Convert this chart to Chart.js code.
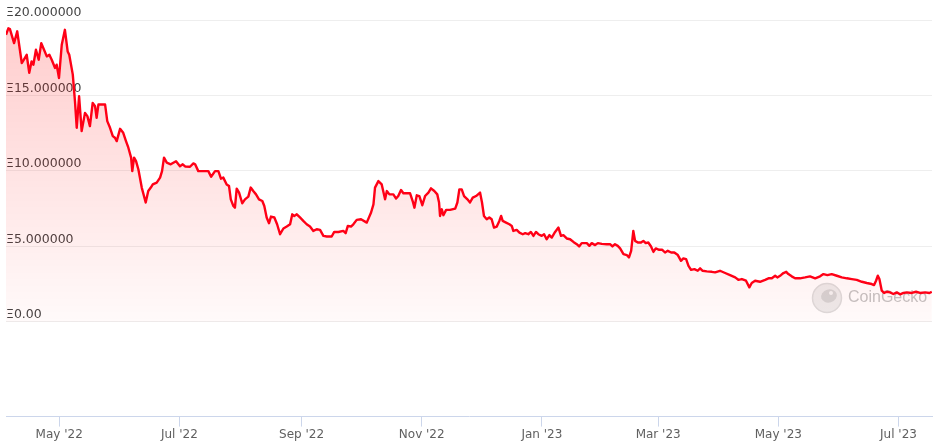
<!DOCTYPE html>
<html>
<head>
<meta charset="utf-8">
<script src="https://cdn.jsdelivr.net/npm/chart.js@4/dist/chart.umd.min.js"></script>
<style>
    body { margin: 0; background: #ffffff; }
    #price-chart { display: block; }
</style>
</head>
<body>
<canvas id="price-chart" width="942" height="445"></canvas>
<script>
// days counted from 2022-04-04
const startDate = '2022-04-04';

const dayOffsets = [
    0, 1.2, 2.0, 4.1, 5.7, 8.0, 9.1, 10.5, 11.8, 13.0, 13.9, 15.2, 16.6, 17.9, 19.3, 20.7, 22.0, 23.2, 24.9, 25.7,
    26.9, 28.3, 29.9, 31.3, 32.1, 33.9, 35.0, 35.9, 37.1, 38.4, 40.1, 41.3, 42.6, 44.0, 45.2, 46.0, 46.9, 50.3, 51.4, 52.8,
    54.2, 55.3, 56.2, 57.9, 59.5, 60.9, 62.1, 63.5, 64.1, 65.0, 66.0, 67.2, 68.9, 70.9, 72.2, 73.5, 74.5, 76.5, 78.2, 79.2,
    80.2, 81.6, 83.6, 86.3, 88.3, 89.7, 90.9, 93.4, 95.1, 96.0, 97.6, 102.7, 104.1, 106.1, 107.8, 109.1, 110.3, 112.0, 113.2, 114.1,
    115.4, 116.2, 117.1, 118.3, 119.9, 121.3, 123.0, 124.2, 125.5, 126.9, 128.4, 130.1, 131.1, 132.3, 133.5, 134.5, 136.2, 137.6, 139.1, 140.8,
    142.5, 144.2, 145.3, 146.3, 147.6, 149.2, 150.9, 152.6, 154.3, 156.0, 157.7, 159.4, 161.1, 162.8, 165.3, 166.6, 168.7, 171.2, 172.4, 173.5,
    175.1, 176.3, 178.0, 180.2, 183.1, 185.3, 186.5, 187.3, 189.0, 190.7, 192.4, 193.3, 194.6, 196.6, 198.0, 199.1, 200.5, 201.7, 205.1, 206.4,
    207.3, 208.5, 209.8, 211.3, 212.7, 214.4, 215.7, 217.4, 218.9, 219.8, 220.3, 221.2, 222.0, 223.4, 225.4, 228.0, 229.1, 230.1, 231.3, 232.5,
    234.2, 235.5, 236.9, 238.6, 240.6, 241.6, 242.6, 244.0, 245.3, 246.5, 247.7, 249.1, 250.4, 251.3, 252.1, 253.8, 255.5, 256.7, 257.5, 259.2,
    260.6, 262.3, 263.5, 265.1, 266.4, 267.7, 269.0, 270.2, 271.9, 273.1, 274.4, 275.8, 277.0, 278.7, 280.4, 281.7, 282.9, 284.6, 286.3, 288.0,
    289.7, 290.9, 292.2, 294.8, 296.1, 297.3, 299.0, 300.4, 302.4, 304.9, 306.6, 307.8, 309.1, 310.5, 311.7, 313.4, 315.1, 316.2, 317.3, 318.4,
    319.3, 320.7, 322.3, 323.5, 324.7, 326.0, 327.4, 328.6, 329.8, 331.5, 333.1, 334.5, 335.9, 337.6, 339.2, 341.0, 342.6, 343.8, 345.2, 346.4,
    347.7, 349.4, 351.1, 352.3, 353.6, 355.7, 358.2, 359.9, 362.4, 365.0, 367.5, 370.1, 371.7, 373.5, 375.6, 377.3, 378.5, 380.2, 382.7, 385.3,
    387.0, 388.7, 390.4, 391.5, 393.3, 394.6, 396.0, 397.1, 398.8, 400.5, 403.0, 405.6, 408.1, 410.7, 413.2, 414.9, 416.9, 419.1, 421.7, 424.2,
    426.8, 429.3, 431.8, 434.4, 436.9, 439.4, 440.6, 441.6, 442.5, 443.3, 444.5, 445.7, 447.1, 448.7, 450.4, 452.1, 453.8, 455.5, 457.2, 459.7,
    461.9, 463.9, 466.5, 468.7, 469.9
];

const prices = [
    19.02, 19.45, 19.4, 18.47, 19.25, 17.15, 17.37, 17.7, 16.5, 17.26, 17.04, 18.03, 17.37, 18.47, 18.03, 17.59, 17.7, 17.37, 16.82, 17.04,
    16.16, 18.36, 19.35, 17.92, 17.7, 16.38, 14.62, 12.86, 14.95, 12.64, 13.85, 13.63, 12.97, 14.51, 14.29, 13.52, 14.4, 14.4, 13.3, 12.86,
    12.31, 12.2, 11.98, 12.79, 12.53, 11.98, 11.54, 10.88, 9.99, 10.88, 10.65, 10.1, 8.9, 7.91, 8.67, 8.9, 9.11, 9.23, 9.56, 9.99,
    10.88, 10.55, 10.44, 10.65, 10.32, 10.44, 10.3, 10.28, 10.5, 10.44, 9.99, 9.99, 9.62, 9.99, 9.99, 9.49, 9.56, 9.11, 9.0, 8.12,
    7.68, 7.57, 8.83, 8.57, 7.86, 8.12, 8.3, 8.9, 8.67, 8.45, 8.12, 8.01, 7.68, 6.92, 6.54, 6.98, 6.92, 6.47, 5.81, 6.19,
    6.32, 6.47, 7.13, 7.02, 7.13, 6.92, 6.69, 6.47, 6.32, 6.03, 6.14, 6.1, 5.7, 5.66, 5.66, 5.96, 5.96, 6.03, 5.88, 6.36,
    6.32, 6.47, 6.76, 6.8, 6.58, 7.25, 7.79, 8.9, 9.33, 9.11, 8.12, 8.67, 8.45, 8.45, 8.17, 8.34, 8.74, 8.52, 8.52, 8.01,
    7.57, 8.39, 8.34, 7.73, 8.34, 8.57, 8.85, 8.67, 8.45, 7.91, 7.02, 7.46, 7.07, 7.42, 7.42, 7.51, 7.91, 8.78, 8.78, 8.34,
    8.12, 7.91, 8.23, 8.34, 8.57, 7.91, 7.02, 6.8, 6.92, 6.8, 6.25, 6.32, 6.69, 7.02, 6.69, 6.58, 6.47, 6.36, 6.03, 6.1,
    5.92, 5.81, 5.88, 5.81, 5.96, 5.7, 5.96, 5.81, 5.7, 5.81, 5.48, 5.75, 5.59, 5.96, 6.25, 5.7, 5.75, 5.53, 5.48, 5.3,
    5.15, 5.0, 5.22, 5.22, 5.04, 5.22, 5.09, 5.22, 5.17, 5.15, 5.15, 5.0, 5.15, 5.04, 4.87, 4.49, 4.43, 4.27, 4.71, 6.03,
    5.37, 5.26, 5.26, 5.37, 5.22, 5.26, 5.0, 4.64, 4.87, 4.78, 4.78, 4.6, 4.71, 4.6, 4.6, 4.43, 4.05, 4.21, 4.16, 3.72,
    3.45, 3.5, 3.39, 3.55, 3.39, 3.35, 3.32, 3.28, 3.39, 3.24, 3.1, 2.95, 2.79, 2.84, 2.73, 2.29, 2.58, 2.73, 2.66, 2.79,
    2.89, 2.89, 3.06, 2.95, 3.1, 3.24, 3.32, 3.17, 3.02, 2.89, 2.89, 2.95, 3.02, 2.89, 3.02, 3.17, 3.1, 3.17, 3.06, 2.95,
    2.89, 2.84, 2.79, 2.66, 2.58, 2.51, 2.44, 2.73, 3.06, 2.84, 2.07, 1.92, 2.0, 1.96, 1.85, 1.96, 1.83, 1.92, 1.96, 1.92,
    2.0, 1.92, 1.96, 1.92, 2.0
];

const monthTickDates = ['2022-05-01', '2022-07-01', '2022-09-01', '2022-11-01', '2023-01-01', '2023-03-01', '2023-05-01', '2023-07-01'];
const monthTickLabels = ["May '22", "Jul '22", "Sep '22", "Nov '22", "Jan '23", "Mar '23", "May '23", "Jul '23"];

const priceTickValues = [0, 5, 10, 15, 20];
const priceTickLabels = ['Ξ0.00', 'Ξ5.000000', 'Ξ10.000000', 'Ξ15.000000', 'Ξ20.000000'];

function daysFromStart(dateString) {
    let start = Date.parse(startDate + 'T00:00:00Z');
    let date = Date.parse(dateString + 'T00:00:00Z');
    return Math.round((date - start) / 86400000);
}

function fillGradient(context) {
    let chart = context.chart;
    let area = chart.chartArea;
    if (!area) {
        return 'rgba(255, 0, 0, 0.1)';
    }
    let zeroY = chart.scales.y.getPixelForValue(0);
    let gradient = chart.ctx.createLinearGradient(0, area.top, 0, zeroY);
    gradient.addColorStop(0, 'rgba(255, 0, 0, 0.2)');
    gradient.addColorStop(1, 'rgba(255, 0, 0, 0.02)');
    return gradient;
}

// CoinGecko watermark, drawn under the line
const watermark = {
    id: 'watermark',
    beforeDatasetsDraw(chart) {
        let ctx = chart.ctx;
        ctx.save();
        ctx.beginPath();
        ctx.arc(827, 298, 14.5, 0, Math.PI * 2);
        ctx.fillStyle = '#ececec';
        ctx.fill();
        ctx.lineWidth = 1.5;
        ctx.strokeStyle = '#dcdcdc';
        ctx.stroke();
        ctx.beginPath();
        ctx.ellipse(829, 296, 8, 6.5, -0.3, 0, Math.PI * 2);
        ctx.fillStyle = '#d4d4d4';
        ctx.fill();
        ctx.beginPath();
        ctx.arc(831, 293, 2, 0, Math.PI * 2);
        ctx.fillStyle = '#f4f4f4';
        ctx.fill();
        ctx.font = '16px "Liberation Sans", Arial, sans-serif';
        ctx.fillStyle = '#c4c4c4';
        ctx.textBaseline = 'middle';
        ctx.fillText('CoinGecko', 848, 298);
        ctx.restore();
    }
};

let points = dayOffsets.map((d, i) => ({ x: d, y: prices[i] }));
let monthTickValues = monthTickDates.map(daysFromStart);

new Chart(document.getElementById('price-chart').getContext('2d'), {
    type: 'line',
    data: {
        datasets: [{
            data: points,
            borderColor: 'rgb(255, 0, 22)',
            borderWidth: 2.4,
            borderJoinStyle: 'round',
            backgroundColor: fillGradient,
            fill: 'origin',
            pointRadius: 0,
            tension: 0
        }]
    },
    options: {
        responsive: false,
        animation: false,
        layout: {
            padding: { left: 6, right: 10, top: 20, bottom: 2 }
        },
        plugins: {
            legend: { display: false },
            tooltip: { enabled: false }
        },
        scales: {
            x: {
                type: 'linear',
                min: 0,
                max: 470,
                afterBuildTicks: (scale) => {
                    scale.ticks = monthTickValues.map(v => ({ value: v }));
                },
                ticks: {
                    autoSkip: false,
                    maxRotation: 0,
                    padding: 1,
                    color: '#606060',
                    font: { family: '"DejaVu Sans", sans-serif', size: 12 },
                    callback: (value, index) => monthTickLabels[index]
                },
                grid: {
                    drawOnChartArea: false,
                    drawTicks: true,
                    tickLength: 10,
                    color: '#ccd6eb'
                },
                border: { display: true, color: '#ccd6eb' }
            },
            y: {
                type: 'linear',
                min: -6.27,
                max: 20,
                afterBuildTicks: (scale) => {
                    scale.ticks = priceTickValues.map(v => ({ value: v }));
                },
                ticks: {
                    mirror: true,
                    padding: 0,
                    labelOffset: -7,
                    color: '#444444',
                    font: { family: '"DejaVu Sans", sans-serif', size: 12.5 },
                    callback: (value, index) => priceTickLabels[index]
                },
                grid: {
                    color: '#eeeeee',
                    drawTicks: false
                },
                border: { display: false }
            }
        }
    },
    plugins: [watermark]
});
</script>
</body>
</html>
